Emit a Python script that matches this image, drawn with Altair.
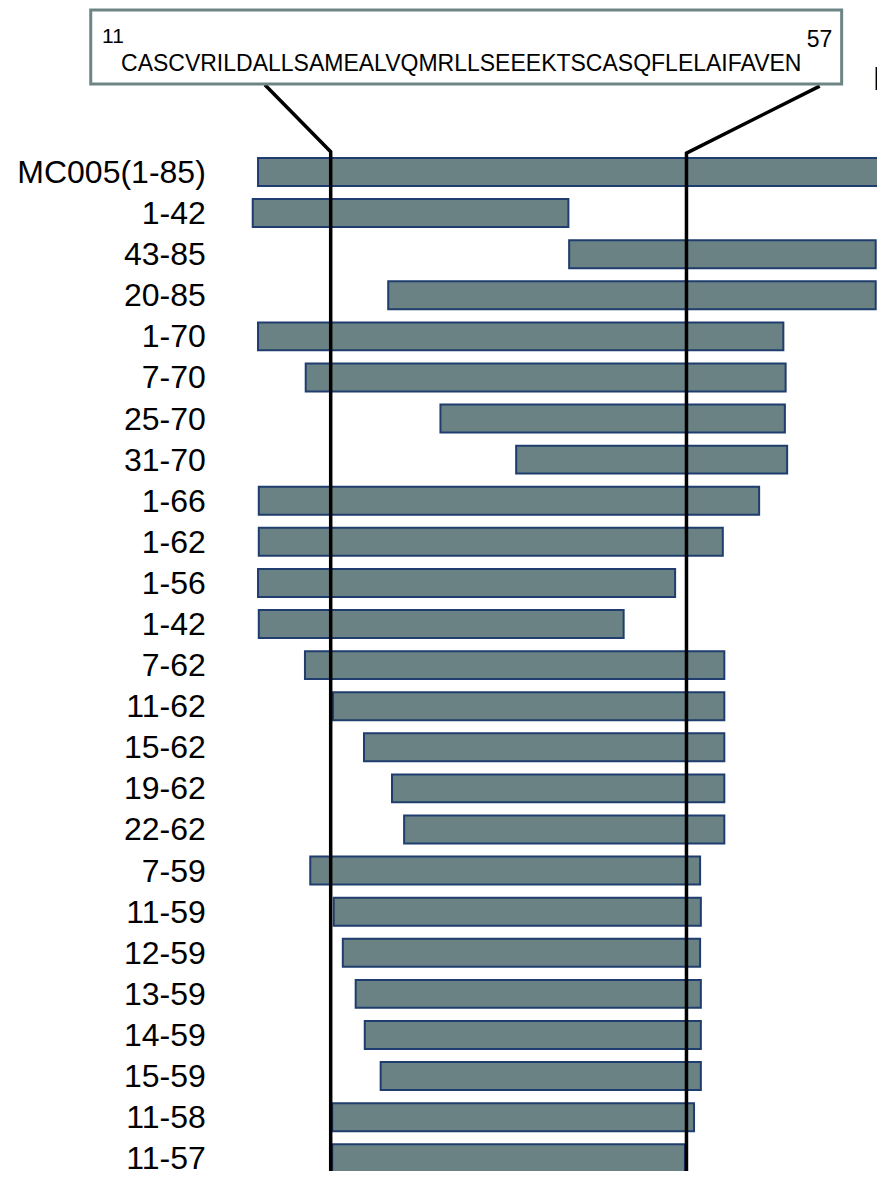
import altair as alt
import pandas as pd

# ---- data ----
labels = ["MC005(1-85)", "1-42", "43-85", "20-85", "1-70", "7-70", "25-70", "31-70",
          "1-66", "1-62", "1-56", "1-42", "7-62", "11-62", "15-62", "19-62", "22-62",
          "7-59", "11-59", "12-59", "13-59", "14-59", "15-59", "11-58", "11-57"]
starts = [0.4, -0.3, 41.5, 17.6, 0.4, 6.7, 24.5, 34.5, 0.5, 0.5, 0.4, 0.5, 6.6,
          10.3, 14.4, 18.1, 19.7, 7.3, 10.4, 11.6, 13.3, 14.5, 16.6, 10.2, 10.2]
ends = [86.0, 41.4, 82.0, 82.0, 69.8, 70.1, 70.0, 70.3, 66.6, 61.8, 55.5, 48.7, 62.0,
        62.0, 62.0, 62.0, 62.0, 58.8, 58.9, 58.8, 58.9, 58.9, 58.9, 58.0, 56.8]
rows = list(range(len(labels)))

# core region boundaries (residue 11 .. 57)
core_left = 10.0
core_right = 57.0
sequence = "CASCVRILDALLSAMEALVQMRLLSEEEKTSCASQFLELAIFAVEN"
seq_start_label = "11"
seq_end_label = "57"

# annotation box (in the chart's own units)
box_x = [-21.7, 77.5]
box_y = [-3.94, -2.14]
left_conn_x = [1.3, core_left, core_left]
left_conn_y = [-2.12, -0.49, 24.6]
right_conn_x = [74.6, core_right, core_right]
right_conn_y = [-2.09, -0.46, 24.6]

X_DOMAIN = [-32.63, 82.17]
Y_DOMAIN = [-3.99, 24.31]

FONT = "Liberation Sans, Arial, sans-serif"

xs = alt.Scale(domain=X_DOMAIN, nice=False, zero=False)
ys = alt.Scale(domain=Y_DOMAIN, nice=False, zero=False, reverse=True)

bars_df = pd.DataFrame({"label": labels, "start": starts, "end": ends, "row": rows})

bars = alt.Chart(bars_df).transform_calculate(
    y0="datum.row - 0.34", y1="datum.row + 0.34"
).mark_rect(fill="#6a8283", stroke="#1f3d6e", strokeWidth=2, clip=True).encode(
    x=alt.X("start:Q", scale=xs, axis=None),
    x2="end:Q",
    y=alt.Y("y0:Q", scale=ys, axis=None),
    y2="y1:Q",
)

label_df = pd.DataFrame({"label": labels, "row": rows, "lx": [-6.5] * len(labels)})
row_labels = alt.Chart(label_df).mark_text(
    align="right", baseline="middle", fontSize=32, dy=1,
    font=FONT, color="#000000"
).encode(
    x=alt.X("lx:Q", scale=xs, axis=None),
    y=alt.Y("row:Q", scale=ys, axis=None),
    text="label:N",
)

conn_df = pd.DataFrame({
    "x": left_conn_x + right_conn_x,
    "y": left_conn_y + right_conn_y,
    "side": ["L"] * 3 + ["R"] * 3,
    "order": [0, 1, 2] * 2,
})
connectors = alt.Chart(conn_df).mark_line(color="#000000", strokeWidth=3.5, clip=True).encode(
    x=alt.X("x:Q", scale=xs, axis=None),
    y=alt.Y("y:Q", scale=ys, axis=None),
    detail="side:N",
    order="order:Q",
)

box_df = pd.DataFrame({"x0": [box_x[0]], "x1": [box_x[1]], "y0": [box_y[0]], "y1": [box_y[1]]})
box = alt.Chart(box_df).mark_rect(fill="#ffffff", stroke="#6e8585", strokeWidth=3).encode(
    x=alt.X("x0:Q", scale=xs, axis=None),
    x2="x1:Q",
    y=alt.Y("y0:Q", scale=ys, axis=None),
    y2="y1:Q",
)

txt_df = pd.DataFrame({
    "t": [sequence, seq_start_label, seq_end_label, "N"],
    "x": [-17.7, -20.2, 72.9, 81.6],
    "y": [-2.45, -3.14, -3.04, -2.0],
    "size": [23, 21, 23, 34],
})
box_text = alt.Chart(txt_df).mark_text(
    align="left", baseline="alphabetic",
    font=FONT, color="#000000"
).encode(
    x=alt.X("x:Q", scale=xs, axis=None),
    y=alt.Y("y:Q", scale=ys, axis=None),
    text="t:N",
    size=alt.Size("size:Q", scale=None, legend=None),
)

chart = alt.layer(bars, connectors, box, box_text, row_labels).properties(
    width=869, height=1163, padding=0, autosize="none"
).configure_view(stroke=None)

chart.save("out.html", embed_options={"renderer": "svg", "actions": False})
